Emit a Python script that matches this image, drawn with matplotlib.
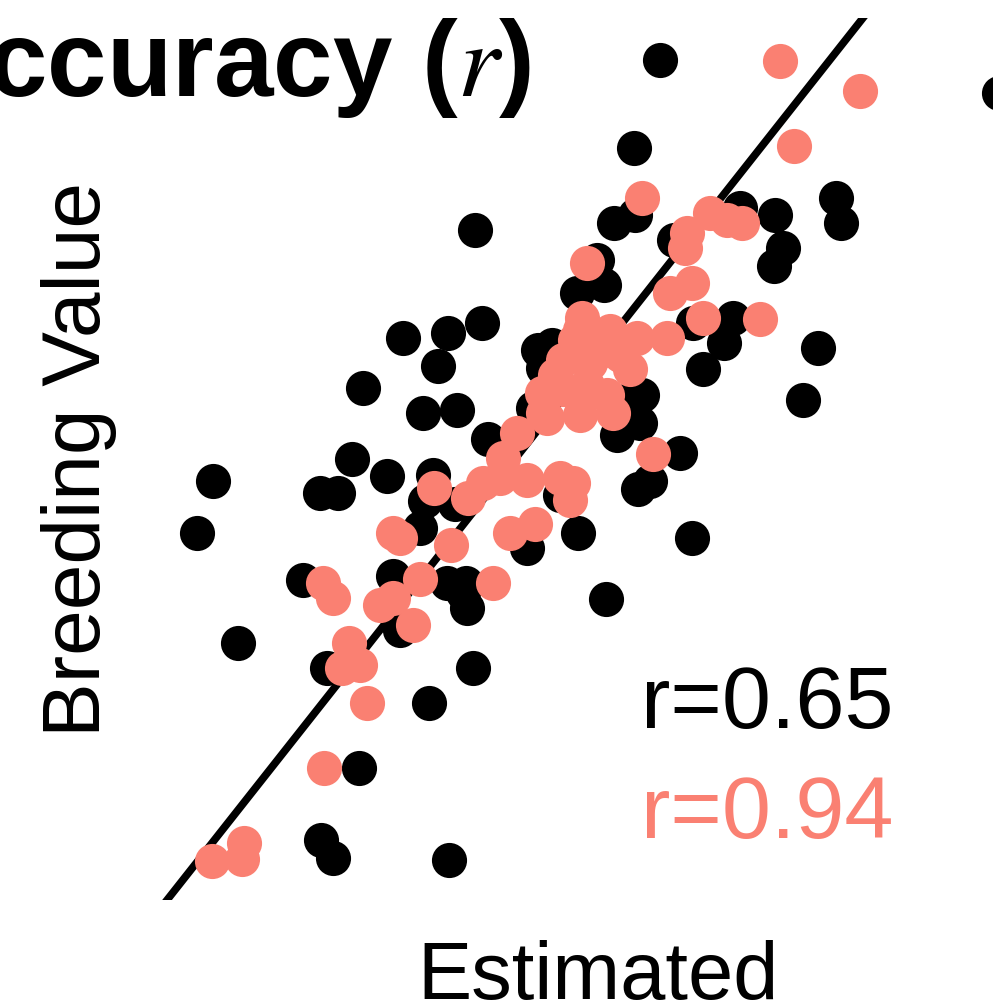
import matplotlib
matplotlib.use("Agg")
import matplotlib.pyplot as plt

plt.rcParams['font.family'] = ['Liberation Sans', 'DejaVu Sans']
plt.rcParams['mathtext.fontset'] = 'stix'

# Estimated (x) vs true breeding value (y), standardized units
black_x = [1.60, 4.99, 1.34, -0.25, 1.14, 1.35, 1.74, 2.40, 2.75, 2.83, 2.74, 3.36, 3.41,
           0.97, 0.77, 1.04, 1.93, 2.33, 2.24, 2.03, 3.18, 3.03, -0.97, -0.52, -0.62, -0.18,
           -1.37, -0.77, -0.43, -1.48, -1.13, -2.87, -1.80, -1.62, -3.03, -0.67, -0.75, -0.45,
           -0.80, -0.12, 0.38, 0.43, 0.33, 1.42, 1.30, 1.40, 1.17, 1.80, 1.38, 1.50, 1.92,
           0.78, 0.27, 0.60, -1.97, -1.07, -0.53, -0.34, -0.37, -0.33, 1.06, -1.00, -2.62,
           -1.73, -0.27, -0.71, -1.41, -1.79, -1.67, -0.51, 0.52]
black_y = [3.36, 3.10, 2.66, 2.00, 2.06, 2.12, 1.92, 2.18, 2.12, 1.86, 1.71, 2.26, 2.06,
           1.76, 1.50, 1.56, 1.26, 1.30, 1.10, 0.89, 1.06, 0.64, 1.14, 1.18, 0.91, 1.26,
           0.74, 0.54, 0.56, 0.17, 0.03, -0.01, -0.10, -0.10, -0.42, 0.04, -0.17, -0.19,
           -0.38, 0.33, 1.04, 0.90, 0.58, 0.68, 0.65, 0.46, 0.36, 0.22, -0.07, -0.01, -0.46,
           -0.42, -0.54, -0.12, -0.80, -0.77, -0.82, -0.82, -0.90, -1.02, -0.95, -1.20, -1.30,
           -1.50, -1.50, -1.78, -2.30, -2.88, -3.02, -3.04, 1.08]

salmon_x = [2.80, 3.60, 2.94, 1.42, 2.10, 2.27, 2.42, 1.87, 1.85, 0.87, 1.92, 1.70, 2.03,
            2.60, 0.82, 1.10, 1.37, 1.67, 0.75, 0.63, 0.97, 1.20, 1.30, 1.07, 0.87, 0.63,
            0.42, 0.43, 0.80, 1.13, 0.17, 0.03, 0.00, -0.17, -0.32, 0.27, 0.60, 0.73, 0.70,
            -0.66, 0.10, 0.35, -1.07, -1.00, -0.49, -0.80, -1.07, -1.20, -0.07, -1.77, -1.67,
            -0.87, -1.51, -1.58, -1.40, -1.33, -1.76, -2.88, -2.56, -2.58, 1.53, 0.90, 0.47,
            0.80, 0.55]
salmon_y = [3.35, 3.11, 2.67, 2.26, 2.14, 2.08, 2.06, 1.98, 1.86, 1.74, 1.58, 1.50, 1.30,
            1.29, 1.30, 1.19, 1.14, 1.14, 1.12, 0.96, 1.02, 1.00, 0.89, 0.68, 0.76, 0.73,
            0.70, 0.54, 0.52, 0.54, 0.38, 0.18, 0.02, -0.02, -0.14, 0.00, 0.02, -0.02, -0.16,
            -0.06, -0.42, -0.35, -0.42, -0.46, -0.52, -0.79, -0.94, -1.00, -0.82, -0.82, -0.94,
            -1.16, -1.30, -1.50, -1.48, -1.78, -2.30, -3.05, -2.90, -3.03, 0.21, 0.94, 0.50,
            1.20, 0.84]

r_labels = ["r=0.65", "r=0.94"]
line_intercept = 0.016
line_slope = 1.014

fig = plt.figure(figsize=(9.93, 10.08), dpi=100)
ax = fig.add_axes([0.0, 108 / 1008, 1.0, 882 / 1008])
ax.set_xlim(-5.0, 4.93)
ax.set_ylim(-3.36, 3.696)
ax.axis('off')

ax.axline((0, line_intercept), slope=line_slope, color='black', lw=5.5, zorder=1)
ax.scatter(black_x, black_y, s=640, color='black', linewidths=0, zorder=2)
ax.scatter(salmon_x, salmon_y, s=640, color='#FA8072', linewidths=0, zorder=3)

fig.text(531 / 993, 1 - 96 / 1008, r'Accuracy ($r$)', fontsize=77, fontweight='bold',
         ha='right', va='baseline')
fig.text(79 / 993, 1 - 460 / 1008, 'Breeding Value', fontsize=59, rotation=90,
         ha='center', va='center')
fig.text(598 / 993, 1 - 999 / 1008, 'Estimated', fontsize=58.5, ha='center', va='baseline')
fig.text(641 / 993, 1 - 728 / 1008, r_labels[0], fontsize=63.5, color='black',
         ha='left', va='baseline')
fig.text(641 / 993, 1 - 838 / 1008, r_labels[1], fontsize=63.5, color='#FA8072',
         ha='left', va='baseline')

fig.savefig('out.png', dpi=100)
